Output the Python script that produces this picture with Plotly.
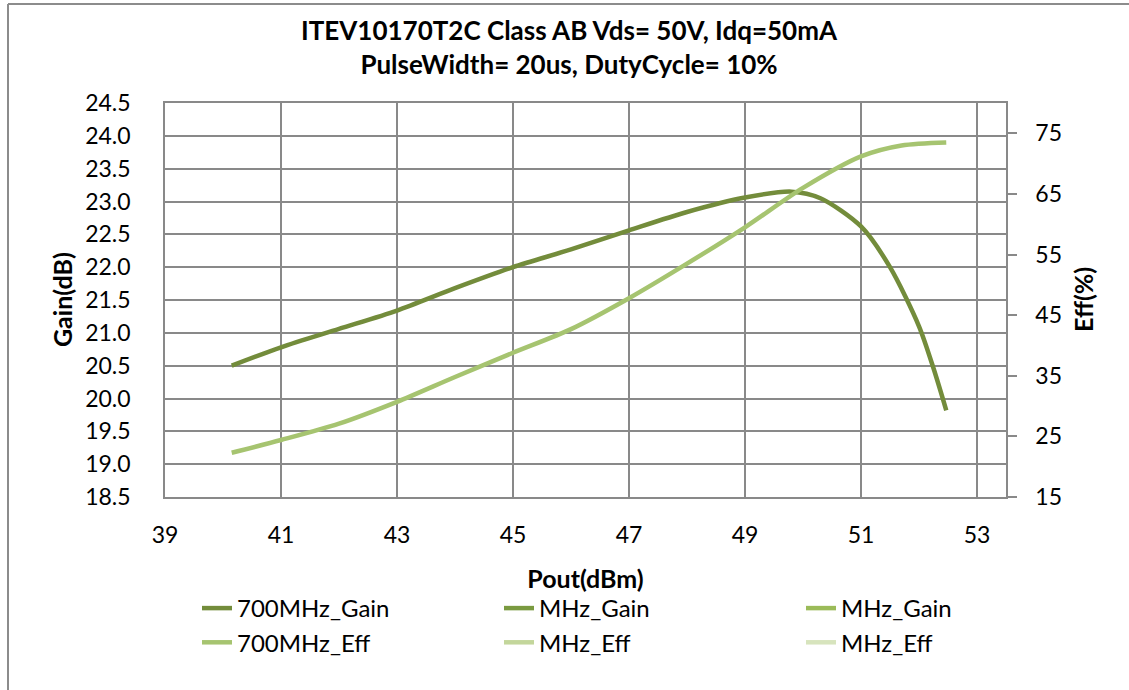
import plotly.graph_objects as go

# ---- data ----
gain_pout = [40.15, 41, 42, 43, 44, 45, 46, 47, 48, 49, 49.8, 50.3, 51, 51.5, 52, 52.25, 52.47]
gain_db = [20.5, 20.78, 21.06, 21.34, 21.68, 22.0, 22.27, 22.56, 22.84, 23.06, 23.15, 23.05, 22.62, 22.0, 21.1, 20.46, 19.82]

eff_pout = [40.15, 41, 42, 43, 44, 45, 46, 47, 48, 49, 50, 51, 51.7, 52.47]
eff_pct = [22.3, 24.4, 27.1, 30.7, 34.8, 38.8, 42.7, 47.8, 53.5, 59.5, 66.0, 71.2, 73.0, 73.5]

gain_names = ["700MHz_Gain", "MHz_Gain", "MHz_Gain"]
eff_names = ["700MHz_Eff", "MHz_Eff", "MHz_Eff"]
gain_colors = ["#738C3B", "#7A9A40", "#9BBB59"]
eff_colors = ["#A6C470", "#C3D69B", "#D7E4BD"]

x_ticks = [39, 41, 43, 45, 47, 49, 51, 53]

FONT = "Lato"
GRID = "#898989"
legends = ["legend", "legend2", "legend3"]

fig = go.Figure()

# Gain series (only the first has data)
fig.add_trace(go.Scatter(x=gain_pout, y=gain_db, name=gain_names[0], mode="lines",
                         line=dict(color=gain_colors[0], width=4.5, shape="spline", smoothing=0.8),
                         legend=legends[0], legendgroup="g0", yaxis="y"))
for i in (1, 2):
    fig.add_trace(go.Scatter(x=[None], y=[None], name=gain_names[i], mode="lines",
                             line=dict(color=gain_colors[i], width=4.5),
                             legend=legends[i], legendgroup=f"g{i}", yaxis="y"))

# Efficiency series
fig.add_trace(go.Scatter(x=eff_pout, y=eff_pct, name=eff_names[0], mode="lines",
                         line=dict(color=eff_colors[0], width=4.5, shape="spline", smoothing=0.8),
                         legend=legends[0], legendgroup="e0", yaxis="y2"))
for i in (1, 2):
    fig.add_trace(go.Scatter(x=[None], y=[None], name=eff_names[i], mode="lines",
                             line=dict(color=eff_colors[i], width=4.5),
                             legend=legends[i], legendgroup=f"e{i}", yaxis="y2"))

L, R, T, B = 165, 1006, 103, 497
W, H = 1129, 690

def px2paper(px, py):
    return (px - L) / (R - L), (B - py) / (B - T)

x0, y0 = px2paper(8, 4)
x1, y1 = px2paper(1140, 700)
gx, gy = px2paper(62, 300)
ex, ey = px2paper(1083, 300)

legend_common = dict(orientation="v",
                     font=dict(family=FONT, size=24, color="#000000"),
                     bgcolor="rgba(0,0,0,0)", xanchor="left", yanchor="middle",
                     xref="container", yref="container", tracegroupgap=4,
                     itemwidth=30, traceorder="normal")

fig.update_layout(
    width=W, height=H,
    margin=dict(l=L, r=W - R, t=T, b=H - B, autoexpand=False),
    paper_bgcolor="white", plot_bgcolor="white",
    font=dict(family=FONT, color="#000000"),
    title=dict(text="<b>ITEV10170T2C Class AB Vds= 50V, Idq=50mA<br>PulseWidth= 20us, DutyCycle= 10%</b>",
               x=0.504, xref="container", xanchor="center",
               y=1 - 40 / H, yref="container", yanchor="middle",
               font=dict(family=FONT, size=26, color="#000000")),
    xaxis=dict(range=[39, 53.5], tickvals=x_ticks, showgrid=True, gridcolor=GRID, gridwidth=1.5,
               showline=True, linecolor=GRID, linewidth=1.5, mirror=True,
               ticks="outside", ticklen=17, tickcolor="rgba(0,0,0,0)",
               tickfont=dict(family=FONT, size=23, color="#000000"), zeroline=False,
               automargin=True,
               title=dict(text="<b>Pout(dBm)</b>", standoff=23,
                          font=dict(family=FONT, size=25, color="#000000"))),
    yaxis=dict(range=[18.5, 24.5], dtick=0.5, tick0=18.5, tickformat=".1f",
               showgrid=True, gridcolor=GRID, gridwidth=1.5,
               showline=True, linecolor=GRID, linewidth=1.5,
               ticks="outside", ticklen=28, tickcolor="rgba(0,0,0,0)",
               tickfont=dict(family=FONT, size=23, color="#000000"), zeroline=False,
               automargin=False),
    yaxis2=dict(range=[15, 80], tick0=15, dtick=10, overlaying="y", side="right",
                showgrid=False, showline=True, linecolor=GRID, linewidth=1.5,
                ticks="outside", ticklen=9, tickwidth=1.5, tickcolor=GRID,
                ticklabelstandoff=14, automargin=False,
                tickfont=dict(family=FONT, size=23, color="#000000"), zeroline=False),
    annotations=[
        dict(text="<b>Gain(dB)</b>", xref="paper", yref="paper", x=gx, y=gy,
             xanchor="center", yanchor="middle", textangle=-90, showarrow=False,
             font=dict(family=FONT, size=25, color="#000000")),
        dict(text="<b>Eff(%)</b>", xref="paper", yref="paper", x=ex, y=ey,
             xanchor="center", yanchor="middle", textangle=-90, showarrow=False,
             font=dict(family=FONT, size=25, color="#000000")),
    ],
    legend=dict(x=197 / W, y=1 - 625.5 / H, **legend_common),
    legend2=dict(x=499 / W, y=1 - 625.5 / H, **legend_common),
    legend3=dict(x=801 / W, y=1 - 625.5 / H, **legend_common),
    shapes=[
        dict(type="line", xref="paper", yref="paper", x0=x0, x1=x0, y0=y0, y1=y1,
             line=dict(color="#8C8C8C", width=2)),
        dict(type="line", xref="paper", yref="paper", x0=x0, x1=x1, y0=y0, y1=y0,
             line=dict(color="#8C8C8C", width=2)),
    ],
)

fig.write_html("out.html", config={"displayModeBar": False},
               post_script="document.body.style.margin='0';document.body.style.overflow='hidden';")
